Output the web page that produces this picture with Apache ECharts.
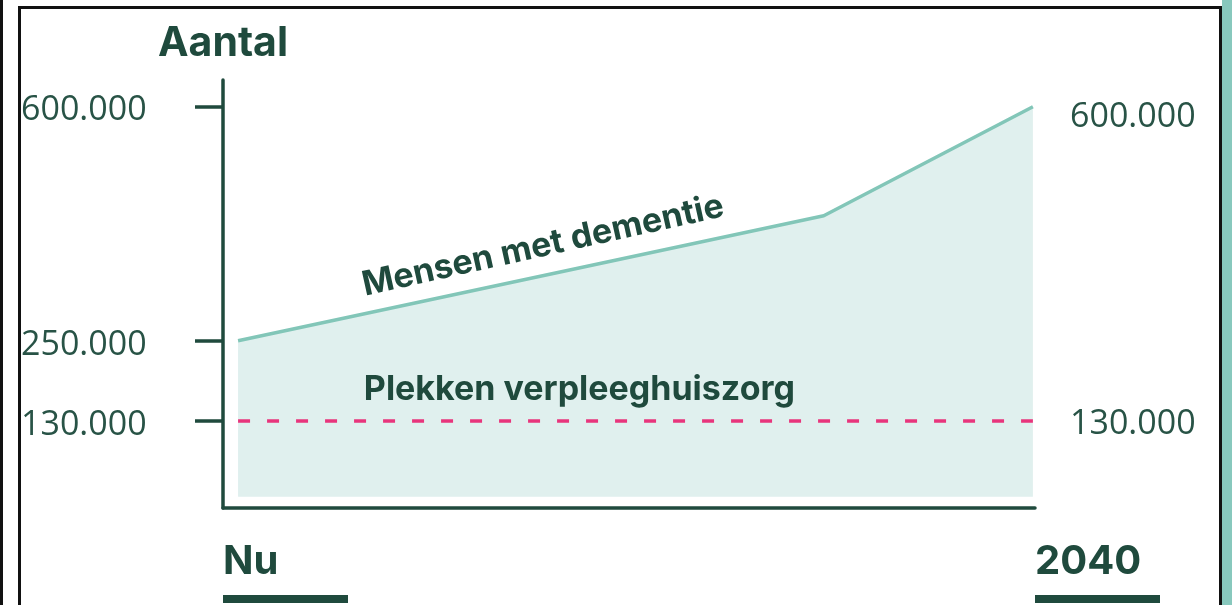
<!DOCTYPE html>
<html>
<head>
<meta charset="utf-8">
<script src="https://cdn.jsdelivr.net/npm/echarts@6/dist/echarts.min.js"></script>
<style>
  html, body { margin: 0; padding: 0; background: #fff; }
  #wrap { position: relative; width: 1232px; height: 605px; overflow: hidden; background: #fff; }
  #edgeL { position: absolute; left: 0; top: 0; width: 3px; height: 605px; background: #111; }
  #edgeR { position: absolute; right: 0; top: 0; width: 10px; height: 605px; background: #88c8bd; }
  #card { position: absolute; left: 18px; top: 6px; width: 1198px; height: 620px;
          border: 3px solid #111; border-bottom: none; background: #fff; }
  #chart { position: absolute; left: 0; top: 0; width: 1232px; height: 605px; }
</style>
</head>
<body>
<div id="wrap">
  <div id="edgeL"></div>
  <div id="card"></div>
  <div id="edgeR"></div>
  <div id="chart"></div>
</div>
<script>
// tijdas: "Nu" .. 2040
const years = [2021, 2035, 2040];
const xMin = 2020.64;
const xMax = 2040.05;
const xLabels = ["Nu", "2040"];

// mensen met dementie
const dementie = [250000, 437000, 600000];
// plekken verpleeghuiszorg (constant)
const plekken = [130000, 130000];
const plekkenYears = [2021, 2040];

// as-labels
const leftTicks = [130000, 250000, 600000];
const rightTicks = [130000, 600000];
const fmt = (v) => (v / 1000).toFixed(0) + ".000";

const dark = "#1f4a3d";
const labelColor = "#285346";
const bold = "Inter, 'Noto Sans', sans-serif";
const regular = "'Open Sans', 'Noto Sans', sans-serif";

const chart = echarts.init(document.getElementById("chart"), null, { renderer: "canvas" });

const annotation = (name, coord, rotate) => ({
  symbol: "circle",
  symbolSize: 1,
  itemStyle: { color: "transparent" },
  data: [{ name: name, coord: coord }],
  label: {
    show: true,
    position: "inside",
    rotate: rotate,
    fontFamily: bold,
    fontWeight: "bold",
    fontSize: 34,
    color: dark,
    formatter: "{b}",
  },
});

const options = {
  animation: false,
  backgroundColor: "transparent",
  grid: { left: 223, right: 197, top: 80, bottom: 92, containLabel: false },
  xAxis: {
    type: "value",
    min: xMin,
    max: xMax,
    axisLine: { show: true, lineStyle: { color: dark, width: 3.5 } },
    axisTick: { show: false },
    splitLine: { show: false },
    axisLabel: {
      customValues: [xMin, xMax],
      margin: 21,
      align: "left",
      verticalAlign: "top",
      formatter: (v) => "{t|" + (v === xMin ? xLabels[0] : xLabels[1]) + "}\n{bar|}",
      rich: {
        t: { fontFamily: bold, fontWeight: "bold", fontSize: 40, color: dark, lineHeight: 66 },
        bar: { width: 125, height: 8, lineHeight: 8, backgroundColor: dark },
      },
    },
  },
  yAxis: [
    {
      type: "value",
      min: 0,
      max: 640000,
      name: "Aantal",
      nameLocation: "end",
      nameGap: 16,
      nameTextStyle: { fontFamily: bold, fontWeight: "bold", fontSize: 41, color: dark, align: "center" },
      axisLine: { show: true, lineStyle: { color: dark, width: 3.5 } },
      axisTick: { show: true, customValues: leftTicks, length: 28, lineStyle: { color: dark, width: 3.5 } },
      splitLine: { show: false },
      axisLabel: {
        customValues: leftTicks,
        margin: 202,
        align: "left",
        formatter: (v) => "{n|" + fmt(v) + "}",
        rich: {
          n: { fontFamily: regular, fontSize: 34, color: labelColor, padding: [8, 0, 0, 0] },
        },
      },
    },
    {
      type: "value",
      position: "right",
      min: 0,
      max: 640000,
      axisLine: { show: false },
      axisTick: { show: false },
      splitLine: { show: false },
      axisLabel: {
        customValues: rightTicks,
        margin: 35,
        align: "left",
        formatter: (v) => (v === 600000 ? "{low|" + fmt(v) + "}" : "{n|" + fmt(v) + "}"),
        rich: {
          n: { fontFamily: regular, fontSize: 34, color: labelColor, padding: [6, 0, 0, 0] },
          low: { fontFamily: regular, fontSize: 34, color: labelColor, padding: [22, 0, 0, 0] },
        },
      },
    },
  ],
  series: [
    {
      name: "Mensen met dementie",
      type: "line",
      data: years.map((y, i) => [y, dementie[i]]),
      symbol: "none",
      lineStyle: { color: "#82c6b8", width: 3.5 },
      areaStyle: { color: "#e0f0ee", opacity: 1, origin: 17000 },
      markPoint: annotation("Mensen met dementie", [2028.29, 392000], 12.5),
      z: 2,
    },
    {
      name: "Plekken verpleeghuiszorg",
      type: "line",
      data: plekkenYears.map((y, i) => [y, plekken[i]]),
      symbol: "none",
      lineStyle: { color: "#e8357c", width: 3.5, type: [12, 17] },
      markPoint: annotation("Plekken verpleeghuiszorg", [2029.16, 177000], 0),
      z: 3,
    },
  ],
};

chart.setOption(options);
</script>
</body>
</html>
